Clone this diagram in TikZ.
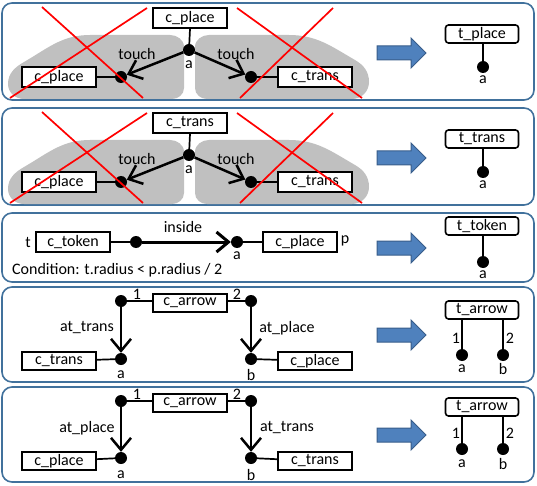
\documentclass[tikz,border=0pt]{standalone}
\usepackage{fontspec}
\setmainfont{Carlito}
\usetikzlibrary{arrows.meta}
\definecolor{panelc}{HTML}{41719C}
\definecolor{arrfill}{HTML}{4F81BD}
\definecolor{arrdraw}{HTML}{385D8A}
\definecolor{blobc}{HTML}{C0C0C0}
\begin{document}
\begin{tikzpicture}[x=1pt,y=-1pt,
  panel/.style={draw=panelc, line width=1.6pt, rounded corners=10pt},
  cbox/.style={draw, fill=white, line width=1.6pt, minimum width=74pt, minimum height=20pt, inner sep=0pt},
  tbox/.style={draw, fill=white, line width=1.6pt, rounded corners=3pt, minimum width=73pt, minimum height=18pt, inner sep=0pt},
  dotn/.style={circle, fill=black, minimum size=12pt, inner sep=0pt},
  lbl/.style={inner sep=0pt},
  conn/.style={line width=1.7pt},
  rel/.style={line width=2.5pt, -{Straight Barb[length=12pt,width=20pt]}},
  cross/.style={draw=red, line width=1.7pt},
  bigarrow/.style={fill=arrfill, draw=arrdraw, line width=1pt},
  blob/.style={fill=blobc},
  every node/.style={font=\fontsize{16}{19}\selectfont},
  pics/bluearrow/.style={code={\draw[bigarrow] (-49,-7) -- (-15,-7) -- (-15,-15) -- (0,0) -- (-15,15) -- (-15,7) -- (-49,7) -- cycle;}}
]
\useasboundingbox (0,0) rectangle (537,486);

% ---------- panel 1 ----------
\draw[panel] (2,3) rectangle (534,100);
\fill[blob] (184,45) to[out=-90,in=90] (184,88) to[out=-90,in=0] (172,99) -- (24,99) to[out=180,in=-90] (8,84) to[out=90,in=210] (24,62) to[out=30,in=180] (90,35) -- (170,35) to[out=0,in=90] (184,47) -- cycle;
\fill[blob] (195,45) to[out=-90,in=90] (195,88) to[out=-90,in=180] (207,99) -- (352,99) to[out=0,in=-90] (369,82) to[out=90,in=-30] (355,60) to[out=150,in=0] (289,35) -- (209,35) to[out=180,in=90] (195,47) -- cycle;
\node[cbox] (p1top) at (190,18) {c\_place};
\node[dotn] (p1a) at (189,50) {};
\node[lbl] (p1alab) at (189,65) {a};
\node[cbox] (p1lb) at (59,77) {c\_place};
\node[dotn] (p1l) at (121,77) {};
\node[cbox] (p1rb) at (315,77) {c\_trans};
\node[dotn] (p1r) at (251,77) {};
\draw[conn] (p1top.south) -- (p1a);
\draw[conn] (p1lb) -- (p1l);
\draw[conn] (p1rb) -- (p1r);
\draw[rel] (p1a) -- (p1l);
\draw[rel] (p1a) -- (p1r);
\node[lbl] (p1t1) at (137,54) {touch};
\node[lbl] (p1t2) at (236,54) {touch};
\draw[cross] (42,7) -- (143,98);
\draw[cross] (147,8) -- (10,98);
\draw[cross] (237,8) -- (362,98);
\draw[cross] (333,8) -- (240,98);
\pic at (426,53) {bluearrow};
\node[tbox] (p1tb) at (482,34) {t\_place};
\node[dotn] (p1td) at (483,67) {};
\node[lbl] (p1tl) at (483,80) {a};
\draw[conn] (p1tb.south -| p1td) -- (p1td);

% ---------- panel 2 ----------
\draw[panel] (2,108) rectangle (534,205);
\begin{scope}[shift={(0,105)}]
\fill[blob] (184,45) to[out=-90,in=90] (184,88) to[out=-90,in=0] (172,99) -- (24,99) to[out=180,in=-90] (8,84) to[out=90,in=210] (24,62) to[out=30,in=180] (90,35) -- (170,35) to[out=0,in=90] (184,47) -- cycle;
\fill[blob] (195,45) to[out=-90,in=90] (195,88) to[out=-90,in=180] (207,99) -- (352,99) to[out=0,in=-90] (369,82) to[out=90,in=-30] (355,60) to[out=150,in=0] (289,35) -- (209,35) to[out=180,in=90] (195,47) -- cycle;
\node[cbox] (p2top) at (190,18) {c\_trans};
\node[dotn] (p2a) at (189,50) {};
\node[lbl] (p2alab) at (189,65) {a};
\node[cbox] (p2lb) at (59,77) {c\_place};
\node[dotn] (p2l) at (121,77) {};
\node[cbox] (p2rb) at (315,77) {c\_trans};
\node[dotn] (p2r) at (251,77) {};
\draw[conn] (p2top.south) -- (p2a);
\draw[conn] (p2lb) -- (p2l);
\draw[conn] (p2rb) -- (p2r);
\draw[rel] (p2a) -- (p2l);
\draw[rel] (p2a) -- (p2r);
\node[lbl] (p2t1) at (137,54) {touch};
\node[lbl] (p2t2) at (236,54) {touch};
\draw[cross] (42,7) -- (143,98);
\draw[cross] (147,8) -- (10,98);
\draw[cross] (237,8) -- (362,98);
\draw[cross] (333,8) -- (240,98);
\pic at (426,53) {bluearrow};
\node[tbox] (p2tb) at (482,34) {t\_trans};
\node[dotn] (p2td) at (483,67) {};
\node[lbl] (p2tl) at (483,80) {a};
\draw[conn] (p2tb.south -| p2td) -- (p2td);
\end{scope}

% ---------- panel 3 ----------
\draw[panel] (2,213) rectangle (534,282);
\node[lbl] (p3t) at (28,242) {t};
\node[cbox] (p3tok) at (73,242) {c\_token};
\node[dotn] (p3d1) at (136,242) {};
\node[dotn] (p3d2) at (237,242) {};
\node[cbox] (p3pl) at (300,242) {c\_place};
\node[lbl] (p3p) at (345,241) {p};
\node[lbl] (p3ins) at (183,227) {inside};
\node[lbl] (p3a) at (237,256) {a};
\node[lbl, anchor=west] (p3cond) at (12,270) {Condition: t.radius < p.radius / 2};
\draw[conn] (p3tok) -- (p3d1);
\draw[conn] (p3pl) -- (p3d2);
\draw[rel, line width=3pt] (p3d1) -- (p3d2);
\pic at (426,248) {bluearrow};
\node[tbox] (p3tb) at (482,226) {t\_token};
\node[dotn] (p3td) at (483,262) {};
\node[lbl] (p3tl) at (483,275) {a};
\draw[conn] (p3tb.south -| p3td) -- (p3td);

% ---------- panel 4 ----------
\draw[panel] (2,287) rectangle (534,382);
\node[cbox, minimum height=18pt] (p4arr) at (190,303) {c\_arrow};
\node[dotn] (p4d1) at (121,301) {};
\node[dotn] (p4d2) at (251,301) {};
\node[lbl] (p4n1) at (137,294) {1};
\node[lbl] (p4n2) at (237,294) {2};
\node[dotn] (p4a) at (121,359) {};
\node[dotn] (p4b) at (251,359) {};
\node[cbox, minimum height=18pt] (p4lb) at (59,361) {c\_trans};
\node[cbox, minimum height=18pt] (p4rb) at (315,361) {c\_place};
\draw[conn] (p4d1) -- (p4d1 -| p4arr.west);
\draw[conn] (p4d2) -- (p4d2 -| p4arr.east);
\draw[conn] (p4lb) -- (p4a);
\draw[conn] (p4rb) -- (p4b);
\draw[rel] (p4d1) -- (p4a);
\draw[rel] (p4d2) -- (p4b);
\node[lbl] (p4l1) at (87,328) {at\_trans};
\node[lbl] (p4l2) at (287,328) {at\_place};
\node[lbl] (p4la) at (121,375) {a};
\node[lbl] (p4lbb) at (251,375) {b};
\pic at (426,335) {bluearrow};
\node[tbox] (p4tb) at (482,310) {t\_arrow};
\node[dotn] (p4ta) at (462,355) {};
\node[dotn] (p4tbd) at (503,355) {};
\draw[conn] (p4tb.south -| p4ta) -- (p4ta);
\draw[conn] (p4tb.south -| p4tbd) -- (p4tbd);
\node[lbl] (p4t1) at (456,338) {1};
\node[lbl] (p4t2) at (510,338) {2};
\node[lbl] (p4tla) at (462,369) {a};
\node[lbl] (p4tlb) at (503,369) {b};

% ---------- panel 5 ----------
\draw[panel] (2,387) rectangle (534,482);
\node[cbox, minimum height=18pt] (p5arr) at (190,403) {c\_arrow};
\node[dotn] (p5d1) at (121,401) {};
\node[dotn] (p5d2) at (251,401) {};
\node[lbl] (p5n1) at (137,394) {1};
\node[lbl] (p5n2) at (237,394) {2};
\node[dotn] (p5a) at (121,458) {};
\node[dotn] (p5b) at (251,458) {};
\node[cbox, minimum height=18pt] (p5lb) at (59,461) {c\_place};
\node[cbox, minimum height=18pt] (p5rb) at (315,461) {c\_trans};
\draw[conn] (p5d1) -- (p5d1 -| p5arr.west);
\draw[conn] (p5d2) -- (p5d2 -| p5arr.east);
\draw[conn] (p5lb) -- (p5a);
\draw[conn] (p5rb) -- (p5b);
\draw[rel] (p5d1) -- (p5a);
\draw[rel] (p5d2) -- (p5b);
\node[lbl] (p5l1) at (87,428) {at\_place};
\node[lbl] (p5l2) at (287,428) {at\_trans};
\node[lbl] (p5la) at (121,475) {a};
\node[lbl] (p5lbb) at (251,475) {b};
\pic at (426,435) {bluearrow};
\node[tbox] (p5tb) at (482,407) {t\_arrow};
\node[dotn] (p5ta) at (462,449) {};
\node[dotn] (p5tbd) at (503,449) {};
\draw[conn] (p5tb.south -| p5ta) -- (p5ta);
\draw[conn] (p5tb.south -| p5tbd) -- (p5tbd);
\node[lbl] (p5t1) at (456,433) {1};
\node[lbl] (p5t2) at (510,433) {2};
\node[lbl] (p5tla) at (462,464) {a};
\node[lbl] (p5tlb) at (503,464) {b};
\end{tikzpicture}
\end{document}
